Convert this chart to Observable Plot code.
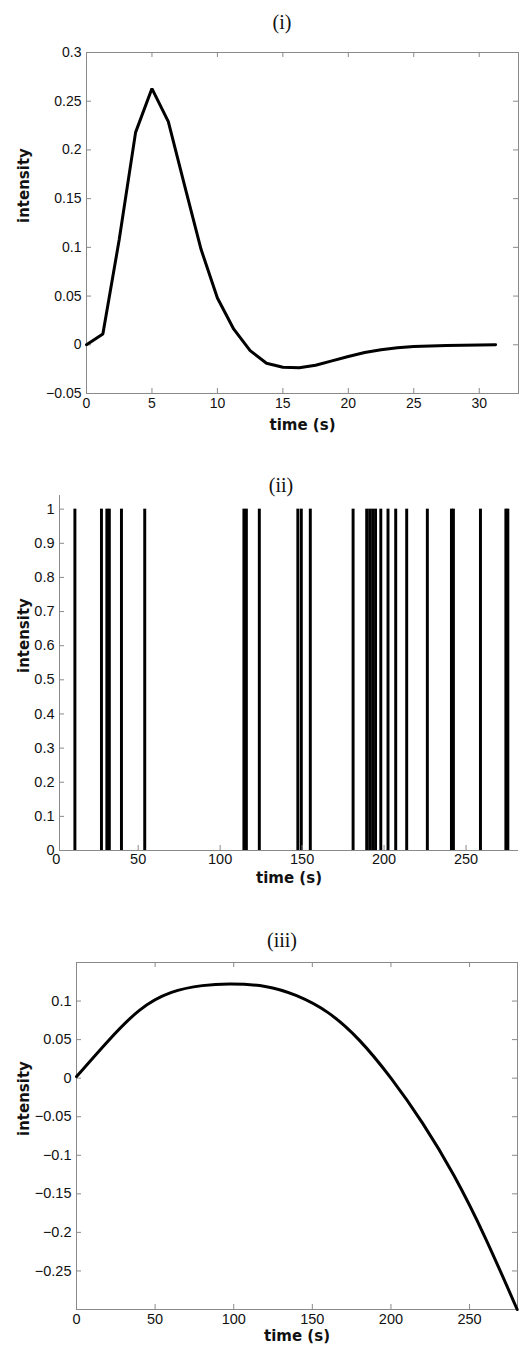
<!DOCTYPE html>
<html>
<head>
<meta charset="utf-8">
<script src="https://cdn.jsdelivr.net/npm/d3@7"></script>
<script src="https://cdn.jsdelivr.net/npm/@observablehq/plot@0.6"></script>
<style>
  html, body { margin: 0; padding: 0; background: white; }
  #page { position: relative; width: 520px; height: 1349px; overflow: hidden; background: white; }
  .panel { position: absolute; left: 0; }
  .ttl { position: absolute; width: 120px; text-align: center; font-family: "Liberation Serif", serif; font-size: 20px; color: #111; line-height: 20px; }
</style>
</head>
<body>
<div id="page"></div>
<script>
// ---------- data ----------
// (i) haemodynamic response
const hrfTime = [0, 1.25, 2.5, 3.75, 5, 6.25, 7.5, 8.75, 10, 11.25, 12.5, 13.75, 15, 16.25, 17.5, 18.75, 20, 21.25, 22.5, 23.75, 25, 26.25, 27.5, 28.75, 30, 31.25];
const hrfValue = [0, 0.011, 0.108, 0.218, 0.263, 0.229, 0.163, 0.098, 0.048, 0.016, -0.006, -0.019, -0.023, -0.0235, -0.021, -0.0165, -0.012, -0.008, -0.005, -0.003, -0.0018, -0.0012, -0.0007, -0.0004, -0.0002, 0];
const hrfXTicks = [0, 5, 10, 15, 20, 25, 30];
const hrfYTicks = [-0.05, 0, 0.05, 0.1, 0.15, 0.2, 0.25, 0.3];

// (ii) stimulus onsets (intensity 1)
const onsetTime = [11.7, 27.9, 31.2, 32.7, 40.1, 54.3, 114.8, 116.3, 124.2, 147.7, 149.8, 155.3, 181.4, 189.7, 191.5, 193.3, 195.1, 198.3, 202.7, 207.4, 214.1, 226.7, 241.4, 242.6, 259.1, 274.6, 275.8];
const onsetXTicks = [0, 50, 100, 150, 200, 250];
const onsetYTicks = [0, 0.1, 0.2, 0.3, 0.4, 0.5, 0.6, 0.7, 0.8, 0.9, 1];

// (iii) slow drift
const driftTime = [0, 20, 40, 60, 80, 98, 120, 140, 160, 180, 200, 220, 240, 260, 280.3];
const driftValue = [0.002, 0.048, 0.088, 0.111, 0.120, 0.122, 0.119, 0.107, 0.085, 0.049, 0.0, -0.058, -0.126, -0.207, -0.300];
const driftXTicks = [0, 50, 100, 150, 200, 250];
const driftYTicks = [-0.25, -0.2, -0.15, -0.1, -0.05, 0, 0.05, 0.1];

const titles = ["(i)", "(ii)", "(iii)"];
const xLabel = "time (s)";
const yLabel = "intensity";

// ---------- helpers ----------
const fmt = d3.format("~g");
const axisGray = "#8a8a8a";
const tickLen = 5;

function inwardTicksX(ticks, innerH, both) {
  const m = [Plot.tickX(ticks, {x: d => d, insetTop: innerH - tickLen, stroke: axisGray})];
  if (both) m.push(Plot.tickX(ticks, {x: d => d, insetBottom: innerH - tickLen, stroke: axisGray}));
  return m;
}
function inwardTicksY(ticks, innerW, both) {
  const m = [Plot.tickY(ticks, {y: d => d, insetRight: innerW - tickLen, stroke: axisGray})];
  if (both) m.push(Plot.tickY(ticks, {y: d => d, insetLeft: innerW - tickLen, stroke: axisGray}));
  return m;
}
function labels(xdy, ydx) {
  return [
    Plot.text([xLabel], {frameAnchor: "bottom", dy: xdy, text: d => d, fontWeight: "bold", fontSize: 15, fontFamily: "DejaVu Sans", fill: "#111"}),
    Plot.text([yLabel], {frameAnchor: "left", dx: ydx, text: d => d, rotate: -90, fontWeight: "bold", fontSize: 15, fontFamily: "DejaVu Sans", fill: "#111"})
  ];
}

const page = document.getElementById("page");
function place(svg, top) {
  const wrap = document.createElement("div");
  wrap.className = "panel";
  wrap.style.top = top + "px";
  wrap.appendChild(svg);
  page.appendChild(wrap);
}
function title(text, cx, cy) {
  const t = document.createElement("div");
  t.className = "ttl";
  t.textContent = text;
  t.style.left = (cx - 60) + "px";
  t.style.top = (cy - 10) + "px";
  page.appendChild(t);
}
const baseStyle = {fontFamily: "Liberation Sans, Arial, sans-serif", fontSize: "14px", color: "#111", background: "white", overflow: "visible"};

// ---------- panel (i) ----------
{
  const W = 520, H = 440, mt = 52, mb = 47, ml = 86, mr = 2;
  const hrf = hrfTime.map((t, i) => ({t, v: hrfValue[i]}));
  const svg = Plot.plot({
    width: W, height: H, marginTop: mt, marginBottom: mb, marginLeft: ml, marginRight: mr,
    style: baseStyle,
    x: {domain: [0, 33]},
    y: {domain: [-0.05, 0.3]},
    marks: [
      Plot.frame({stroke: axisGray}),
      ...inwardTicksX(hrfXTicks, H - mt - mb, true),
      ...inwardTicksY(hrfYTicks, W - ml - mr, true),
      Plot.axisX({ticks: hrfXTicks, tickFormat: fmt, tickSize: 0, tickPadding: 5, label: null}),
      Plot.axisY({ticks: hrfYTicks, tickFormat: fmt, tickSize: 0, tickPadding: 5, label: null}),
      Plot.line(hrf, {x: "t", y: "v", stroke: "black", strokeWidth: 3, strokeLinejoin: "miter"}),
      ...labels(36, -62)
    ]
  });
  place(svg, 0);
}

// ---------- panel (ii) ----------
{
  const W = 520, H = 420, mt = 25, mb = 40, ml = 59, mr = 2;
  const svg = Plot.plot({
    width: W, height: H, marginTop: mt, marginBottom: mb, marginLeft: ml, marginRight: mr,
    style: {...baseStyle, fontSize: "14.5px"},
    x: {domain: [2, 282]},
    y: {domain: [0, 1.04]},
    marks: [
      Plot.rect(onsetTime, {x1: d => d - 0.9, x2: d => d + 0.9, y1: 0, y2: 1, fill: "black"}),
      Plot.ruleY([0], {stroke: axisGray}),
      Plot.ruleX([2], {stroke: axisGray}),
      ...inwardTicksX(onsetXTicks.filter(d => d > 2), H - mt - mb, false),
      ...inwardTicksY(onsetYTicks, W - ml - mr, false),
      Plot.axisX({ticks: onsetXTicks, tickFormat: fmt, tickSize: 0, tickPadding: 3, label: null}),
      Plot.axisY({ticks: onsetYTicks, tickFormat: fmt, tickSize: 0, tickPadding: 5, label: null}),
      ...labels(32, -35)
    ]
  });
  place(svg, 470);
}

// ---------- panel (iii) ----------
{
  const W = 520, H = 449, mt = 62, mb = 40, ml = 76, mr = 3;
  const drift = driftTime.map((t, i) => ({t, v: driftValue[i]}));
  const svg = Plot.plot({
    width: W, height: H, marginTop: mt, marginBottom: mb, marginLeft: ml, marginRight: mr,
    style: {...baseStyle, fontSize: "14.5px"},
    x: {domain: [0, 280.5]},
    y: {domain: [-0.3, 0.15]},
    marks: [
      Plot.frame({stroke: axisGray}),
      ...inwardTicksX(driftXTicks, H - mt - mb, true),
      ...inwardTicksY(driftYTicks, W - ml - mr, true),
      Plot.axisX({ticks: driftXTicks, tickFormat: fmt, tickSize: 0, tickPadding: 4, label: null}),
      Plot.axisY({ticks: driftYTicks, tickFormat: fmt, tickSize: 0, tickPadding: 5, label: null}),
      Plot.line(drift, {x: "t", y: "v", curve: "natural", stroke: "black", strokeWidth: 3}),
      ...labels(31, -52)
    ]
  });
  place(svg, 900);
}

title(titles[0], 282, 22);
title(titles[1], 281, 485);
title(titles[2], 282, 940);
</script>
</body>
</html>
